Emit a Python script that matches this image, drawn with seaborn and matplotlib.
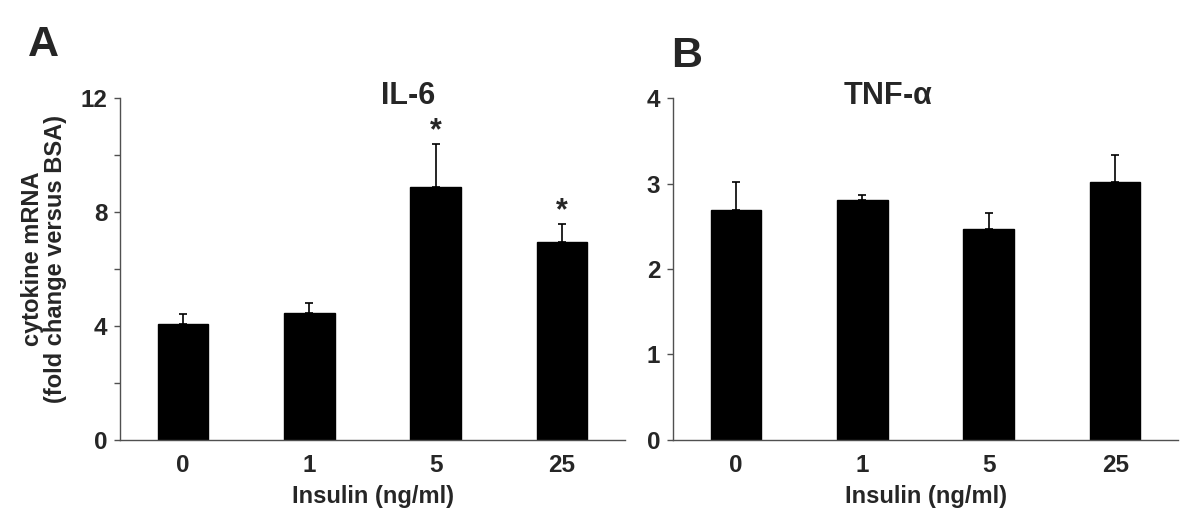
import numpy as np
import pandas as pd
import matplotlib
matplotlib.use("Agg")
import matplotlib.pyplot as plt
from matplotlib.ticker import MultipleLocator
import seaborn as sns

# values
doses = ["0", "1", "5", "25"]
il6_mean = [4.07, 4.47, 8.88, 6.95]
il6_sem = [0.35, 0.32, 1.49, 0.62]
il6_star = [False, False, True, True]
tnf_mean = [2.69, 2.81, 2.47, 3.02]
tnf_sem = [0.33, 0.055, 0.18, 0.31]
tnf_star = [False, False, False, False]

sns.set_style("ticks")
plt.rcParams["font.family"] = ["Liberation Sans", "DejaVu Sans"]
plt.rcParams["font.weight"] = "bold"
plt.rcParams["mathtext.default"] = "regular"

AXCOL = "#505050"


def draw_panel(ax, means, sems, stars, title, title_x, ymax, major, minor):
    df = pd.DataFrame({"dose": doses, "value": means})
    sns.barplot(data=df, x="dose", y="value", color="black", width=0.4,
                saturation=1, errorbar=None, ax=ax, edgecolor="black")
    x = np.arange(len(doses))
    ax.errorbar(x, means, yerr=[np.zeros(len(sems)), sems], fmt="none",
                ecolor="black", elinewidth=1.2, capsize=3, capthick=1.2)
    for xi, m, s, st in zip(x, means, sems, stars):
        if st:
            ax.annotate("*", (xi, m + s), xytext=(0, -1.5),
                        textcoords="offset points", ha="center", va="bottom",
                        fontsize=22, fontweight="bold")
    ax.set_xlim(-0.5, 3.5)
    ax.set_ylim(0, ymax)
    ax.yaxis.set_major_locator(MultipleLocator(major))
    if minor:
        ax.yaxis.set_minor_locator(MultipleLocator(minor))
    ax.tick_params(axis="y", which="both", direction="out", length=4,
                   width=1, color=AXCOL, labelsize=17.5, pad=5)
    ax.tick_params(axis="x", length=0, labelsize=17.5, pad=10)
    for lab in ax.get_xticklabels() + ax.get_yticklabels():
        lab.set_fontweight("bold")
    sns.despine(ax=ax)
    for sp in ["left", "bottom"]:
        ax.spines[sp].set_color(AXCOL)
        ax.spines[sp].set_linewidth(1)
    ax.set_xlabel("Insulin (ng/ml)", fontsize=17, fontweight="bold", labelpad=6)
    ax.text(title_x, 1.005, title, transform=ax.transAxes, ha="center",
            va="center", fontsize=22, fontweight="bold")


fig = plt.figure(figsize=(12, 5.3), dpi=100)
axA = fig.add_axes([0.1, 0.17, 0.421, 0.645])
axB = fig.add_axes([0.5606, 0.17, 0.4214, 0.645])

draw_panel(axA, il6_mean, il6_sem, il6_star, "IL-6", 0.57, 12, 4, 2)
draw_panel(axB, tnf_mean, tnf_sem, tnf_star, r"TNF-$\alpha$", 0.425, 4, 1, None)

axA.set_ylabel("cytokine mRNA\n(fold change versus BSA)", fontsize=17,
               fontweight="bold", linespacing=1.05)
axA.yaxis.set_label_coords(-0.104, 0.53)
axB.set_ylabel("")

fig.text(0.036, 0.915, "A", fontsize=31, fontweight="bold", ha="center", va="center")
fig.text(0.572, 0.895, "B", fontsize=31, fontweight="bold", ha="center", va="center")

fig.savefig("out.png", dpi=100, facecolor="white")
